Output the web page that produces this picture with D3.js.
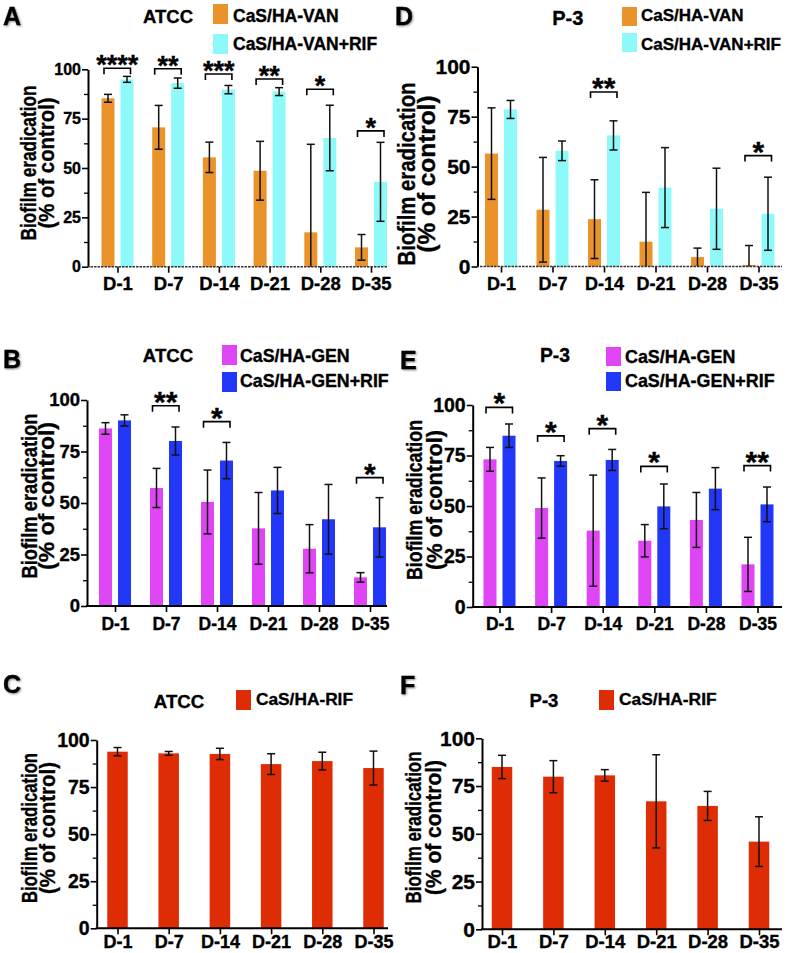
<!DOCTYPE html>
<html><head><meta charset="utf-8">
<script src="https://cdn.jsdelivr.net/npm/d3@7"></script>
<style>
body{margin:0;background:#fff}
svg{display:block;font-family:"Liberation Sans",Arial,Helvetica,sans-serif;font-weight:bold}
text.heavy{stroke:#000;stroke-width:0.35px}
</style>
</head><body>
<svg id="chart" width="790" height="953"></svg>
<script>
// ---------- DATA ----------
const categories = ["D-1", "D-7", "D-14", "D-21", "D-28", "D-35"];
const yTickValues = [0, 25, 50, 75, 100];
const yMinorTickValues = [12.5, 37.5, 62.5, 87.5];
const yTitleLines = ["Biofilm eradication", "(% of control)"];

// Panel A: ATCC, VAN
const atccVanMean   = [85.3, 70.6, 55.4, 48.6, 17.4, 9.8];
const atccVanErr    = [2.0, 11.1, 7.7, 14.9, 44.6, 6.5];
const atccVanRifMean = [94.9, 93.0, 89.7, 88.7, 65.2, 43.0];
const atccVanRifErr  = [1.5, 2.6, 2.1, 2.0, 16.6, 20.0];
const atccVanSig = [
  {cat: "D-1", label: "****", level: 100.5},
  {cat: "D-7", label: "**", level: 100.3},
  {cat: "D-14", label: "***", level: 97.6},
  {cat: "D-21", label: "**", level: 95.1},
  {cat: "D-28", label: "*", level: 89.9},
  {cat: "D-35", label: "*", level: 68.8}
];

// Panel D: P-3, VAN
const p3VanMean    = [56.5, 28.4, 23.7, 12.4, 4.7, 0.8];
const p3VanErr     = [22.9, 26.2, 19.7, 24.7, 4.5, 9.7];
const p3VanRifMean = [78.6, 57.9, 65.6, 39.5, 28.9, 26.4];
const p3VanRifErr  = [4.5, 4.9, 7.3, 20.0, 20.3, 18.3];
const p3VanSig = [
  {cat: "D-14", label: "**", level: 87.3},
  {cat: "D-35", label: "*", level: 55.5}
];

// Panel B: ATCC, GEN
const atccGenMean    = [86.2, 57.3, 50.5, 37.7, 27.8, 13.9];
const atccGenErr     = [2.8, 9.5, 15.5, 17.4, 11.7, 2.3];
const atccGenRifMean = [90.1, 80.1, 70.6, 56.1, 42.1, 38.2];
const atccGenRifErr  = [2.7, 6.8, 8.8, 11.2, 16.9, 14.4];
const atccGenSig = [
  {cat: "D-7", label: "**", level: 97.2},
  {cat: "D-14", label: "*", level: 89.5},
  {cat: "D-35", label: "*", level: 62.3}
];

// Panel E: P-3, GEN
const p3GenMean    = [73.1, 49.0, 37.8, 32.8, 43.1, 21.1];
const p3GenErr     = [5.9, 14.9, 27.5, 8.0, 13.6, 13.4];
const p3GenRifMean = [84.8, 72.3, 72.8, 49.8, 58.6, 50.8];
const p3GenRifErr  = [5.8, 2.6, 5.2, 11.1, 10.4, 8.6];
const p3GenSig = [
  {cat: "D-1", label: "*", level: 98.8},
  {cat: "D-7", label: "*", level: 84.7},
  {cat: "D-14", label: "*", level: 88.3},
  {cat: "D-21", label: "*", level: 69.6},
  {cat: "D-35", label: "**", level: 70.0}
];

// Panel C: ATCC, RIF
const atccRifMean = [93.8, 92.9, 92.6, 87.2, 88.8, 85.1];
const atccRifErr  = [2.2, 1.0, 3.0, 5.5, 4.7, 9.0];
// Panel F: P-3, RIF
const p3RifMean = [85.0, 79.9, 80.6, 67.0, 64.6, 45.9];
const p3RifErr  = [6.1, 8.4, 3.0, 24.4, 7.6, 13.0];

// ---------- STYLE ----------
const colVan = "#E9932A", colVanRif = "#8DF9F8";
const colGen = "#DF45F5", colGenRif = "#2237F8";
const colRif = "#DE2C05";

// ---------- LAYOUT ----------
const panels = [
  {letter: "A", lx: 3, ly: 25, title: "ATCC", tx: 168, ty: 23, tf: 18.5,
   axisX: 88, axisEnd: 388, c0: 117.5, c5: 371, y0: 266.7, y100: 69.3,
   yTickFont: 16, xTickFont: 18.5, xLabBase: 290, dotted: true,
   yTitle: {f: 22, b1: 36, b2: 54, vc: 163, l1: 155, l2: 131},
   legend: {x: 213, tops: [4, 34], h: 20, textX: 233, bases: [22, 50], f: 17.5},
   starFont: 27,
   series: [{name: "CaS/HA-VAN", color: colVan, mean: atccVanMean, err: atccVanErr},
            {name: "CaS/HA-VAN+RIF", color: colVanRif, mean: atccVanRifMean, err: atccVanRifErr}],
   sig: atccVanSig},
  {letter: "D", lx: 395, ly: 25, title: "P-3", tx: 567.7, ty: 25, tf: 20,
   axisX: 477.5, axisEnd: 782, c0: 501, c5: 758.5, y0: 266.5, y100: 66.7,
   yTickFont: 21, xTickFont: 18, xLabBase: 290, dotted: true,
   yTitle: {f: 23, b1: 415, b2: 434.5, vc: 174, l1: 183, l2: 157},
   legend: {x: 622, tops: [7, 33], h: 19, textX: 641, bases: [21, 50], f: 17},
   starFont: 30,
   series: [{name: "CaS/HA-VAN", color: colVan, mean: p3VanMean, err: p3VanErr},
            {name: "CaS/HA-VAN+RIF", color: colVanRif, mean: p3VanRifMean, err: p3VanRifErr}],
   sig: p3VanSig},
  {letter: "B", lx: 3, ly: 368, title: "ATCC", tx: 168, ty: 362, tf: 18.6,
   axisX: 87, axisEnd: 387, c0: 115, c5: 370, y0: 606, y100: 400,
   yTickFont: 18.5, xTickFont: 17.5, xLabBase: 630, dotted: false,
   yTitle: {f: 22, b1: 36.5, b2: 54, vc: 496, l1: 165, l2: 148},
   legend: {x: 222, tops: [345, 372], h: 20, textX: 240, bases: [362, 387], f: 17.8},
   starFont: 30,
   series: [{name: "CaS/HA-GEN", color: colGen, mean: atccGenMean, err: atccGenErr},
            {name: "CaS/HA-GEN+RIF", color: colGenRif, mean: atccGenRifMean, err: atccGenRifErr}],
   sig: atccGenSig},
  {letter: "E", lx: 400, ly: 369, title: "P-3", tx: 555, ty: 362, tf: 19.3,
   axisX: 472.7, axisEnd: 782, c0: 499.5, c5: 757.5, y0: 607, y100: 405,
   yTickFont: 19.5, xTickFont: 17.5, xLabBase: 630, dotted: false,
   yTitle: {f: 22, b1: 422, b2: 442, vc: 500, l1: 160, l2: 140},
   legend: {x: 606, tops: [347, 372], h: 19, textX: 625, bases: [363, 387], f: 17.9},
   starFont: 30,
   series: [{name: "CaS/HA-GEN", color: colGen, mean: p3GenMean, err: p3GenErr},
            {name: "CaS/HA-GEN+RIF", color: colGenRif, mean: p3GenRifMean, err: p3GenRifErr}],
   sig: p3GenSig},
  {letter: "C", lx: 3, ly: 693, title: "ATCC", tx: 179, ty: 708, tf: 18.6,
   axisX: 96.7, axisEnd: 388, c0: 117.5, c5: 373.5, y0: 928.3, y100: 740,
   yTickFont: 19.5, xTickFont: 18, xLabBase: 948, dotted: false,
   yTitle: {f: 22, b1: 36.5, b2: 54.5, vc: 828, l1: 150, l2: 132},
   legend: {x: 236, tops: [690], h: 20, textX: 256, bases: [705], f: 17.3},
   starFont: 30,
   series: [{name: "CaS/HA-RIF", color: colRif, mean: atccRifMean, err: atccRifErr}],
   sig: []},
  {letter: "F", lx: 400, ly: 694, title: "P-3", tx: 544, ty: 707, tf: 18.5,
   axisX: 482, axisEnd: 782, c0: 502, c5: 759, y0: 929.3, y100: 738.3,
   yTickFont: 21, xTickFont: 18.5, xLabBase: 948, dotted: false,
   yTitle: {f: 22, b1: 421, b2: 441, vc: 827.5, l1: 152, l2: 135},
   legend: {x: 599, tops: [690], h: 20, textX: 619, bases: [705], f: 17.4},
   starFont: 30,
   series: [{name: "CaS/HA-RIF", color: colRif, mean: p3RifMean, err: p3RifErr}],
   sig: []}
];

// ---------- DRAW ----------
const svg = d3.select("#chart");
svg.append("rect").attr("width", 790).attr("height", 953).attr("fill", "#fff");
const defs = svg.append("defs");
const f = defs.append("filter").attr("id", "shadow").attr("x", "-30%").attr("y", "-30%").attr("width", "160%").attr("height", "160%");
f.append("feDropShadow").attr("dx", 1).attr("dy", 1).attr("stdDeviation", 1.2).attr("flood-color", "#000").attr("flood-opacity", 0.45);

function drawPanel(p) {
  const g = svg.append("g");
  const x = d3.scalePoint().domain(categories).range([p.c0, p.c5]);
  const y = d3.scaleLinear().domain([0, 100]).range([p.y0, p.y100]);
  const n = p.series.length;

  p.series.forEach((s, i) => {
    const off = n === 1 ? 0 : (i === 0 ? -9.5 : 9.5);
    const w = n === 1 ? 20.5 : 13;
    const rows = categories.map((c, j) => ({c, m: s.mean[j], e: s.err[j]}));
    g.append("g").selectAll("rect").data(rows).join("rect")
      .attr("x", d => x(d.c) + off - w / 2)
      .attr("y", d => y(d.m))
      .attr("width", w)
      .attr("height", d => y(0) - y(d.m))
      .attr("fill", s.color);
    const eg = g.append("g").attr("stroke", "#111").attr("stroke-width", 1.5).attr("fill", "none");
    rows.forEach(d => {
      const cx = x(d.c) + off;
      const hi = d.m + d.e, lo = Math.max(0, d.m - d.e);
      eg.append("line").attr("x1", cx).attr("x2", cx).attr("y1", y(hi)).attr("y2", y(lo));
      eg.append("line").attr("x1", cx - 4).attr("x2", cx + 4).attr("y1", y(hi)).attr("y2", y(hi));
      if (d.m - d.e > 0.5)
        eg.append("line").attr("x1", cx - 4).attr("x2", cx + 4).attr("y1", y(lo)).attr("y2", y(lo));
    });
  });

  // y axis
  const ya = g.append("g").attr("transform", `translate(${p.axisX},0)`)
    .call(d3.axisLeft(y).tickValues(yTickValues).tickSize(6).tickSizeOuter(0).tickPadding(1));
  ya.select(".domain").attr("stroke", "#000").attr("stroke-width", 2);
  ya.selectAll(".tick line").attr("stroke", "#000").attr("stroke-width", 1.6);
  ya.selectAll(".tick text").attr("fill", "#000").attr("class", "heavy").style("font-size", p.yTickFont + "px")
    .style("font-weight", "bold").style("font-family", "Liberation Sans, Arial, sans-serif");
  const ym = g.append("g").attr("transform", `translate(${p.axisX},0)`)
    .call(d3.axisLeft(y).tickValues(yMinorTickValues).tickSize(4).tickFormat(""));
  ym.select(".domain").remove();
  ym.selectAll(".tick line").attr("stroke", "#000").attr("stroke-width", 1.3);

  // x axis
  const xa = g.append("g").attr("transform", `translate(0,${p.y0})`)
    .call(d3.axisBottom(x).tickSize(6).tickSizeOuter(0).tickPadding(0));
  xa.select(".domain").remove();
  xa.selectAll(".tick line").attr("stroke", "#000").attr("stroke-width", 1.6);
  xa.selectAll(".tick text").attr("fill", "#000").attr("class", "heavy").attr("y", p.xLabBase - p.y0).attr("dy", 0)
    .style("font-size", p.xTickFont + "px").style("font-weight", "bold")
    .style("font-family", "Liberation Sans, Arial, sans-serif");
  g.append("line").attr("x1", p.axisX - 1).attr("x2", p.axisEnd).attr("y1", p.y0).attr("y2", p.y0)
    .attr("stroke", p.dotted ? "#333" : "#000").attr("stroke-width", p.dotted ? 1.6 : 2)
    .attr("stroke-dasharray", p.dotted ? "2.5,1" : null);

  // significance brackets
  p.sig.forEach(sg => {
    const x1 = x(sg.cat) - 13.5, x2 = x(sg.cat) + 13;
    const yb = y(sg.level);
    g.append("path").attr("d", `M${x1},${yb + 6}V${yb}H${x2}V${yb + 6}`)
      .attr("fill", "none").attr("stroke", "#000").attr("stroke-width", 1.6);
    g.append("text").attr("x", (x1 + x2) / 2).attr("y", yb + 6).attr("text-anchor", "middle")
      .attr("class", "heavy").style("font-size", p.starFont + "px").text(sg.label);
  });

  // y title
  const yt = p.yTitle;
  [[yt.b1, yt.l1], [yt.b2, yt.l2]].forEach(([bx, len], k) => {
    g.append("text").attr("transform", `translate(${bx},${yt.vc}) rotate(-90)`)
      .attr("text-anchor", "middle").attr("textLength", len).attr("lengthAdjust", "spacingAndGlyphs")
      .attr("class", "heavy").style("font-size", yt.f + "px").text(yTitleLines[k]);
  });

  // title
  g.append("text").attr("x", p.tx).attr("y", p.ty).attr("text-anchor", "middle")
    .attr("class", "heavy").style("font-size", p.tf + "px").text(p.title);

  // legend
  p.series.forEach((s, i) => {
    g.append("rect").attr("x", p.legend.x).attr("y", p.legend.tops[i]).attr("width", 15)
      .attr("height", p.legend.h).attr("fill", s.color);
    g.append("text").attr("x", p.legend.textX).attr("y", p.legend.bases[i])
      .attr("class", "heavy").style("font-size", p.legend.f + "px").text(s.name);
  });

  // panel letter
  g.append("text").attr("x", p.lx).attr("y", p.ly).attr("filter", "url(#shadow)")
    .attr("class", "heavy").style("font-size", "25px").style("font-weight", "900").text(p.letter);
}

panels.forEach(drawPanel);
</script>
</body></html>
